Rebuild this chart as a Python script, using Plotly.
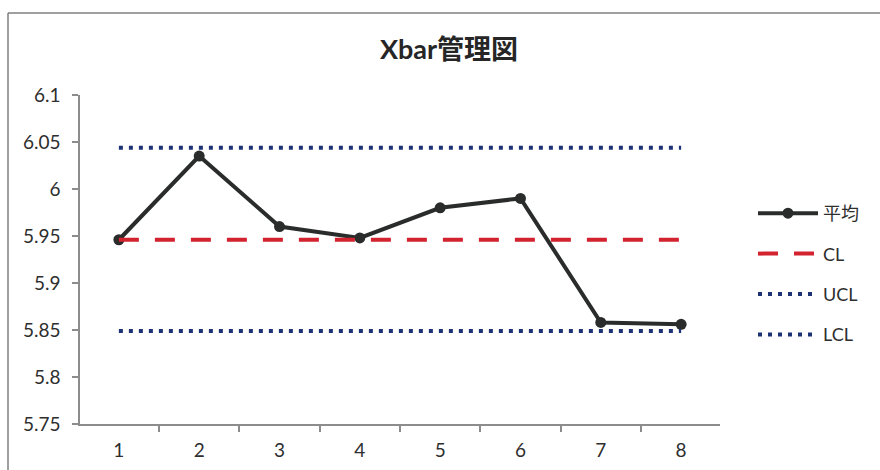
import plotly.graph_objects as go

# Subgroup numbers and their sample means
subgroups = ["1", "2", "3", "4", "5", "6", "7", "8"]
means = [5.946, 6.035, 5.960, 5.948, 5.980, 5.990, 5.858, 5.856]

# Control limits
cl_value = 5.946
ucl_value = 6.044
lcl_value = 5.849

y_tick_vals = [5.75, 5.8, 5.85, 5.9, 5.95, 6.0, 6.05, 6.1]
y_tick_text = ["5.75", "5.8", "5.85", "5.9", "5.95", "6", "6.05", "6.1"]

FONT = "Lato, 'Noto Sans CJK JP', sans-serif"
W, H = 880, 470
L, R, T, B = 80, 160, 95, 46
plot_w = W - L - R
plot_h = H - T - B


def px_x(px):
    return (px - L) / plot_w


def px_y(py):
    return (H - B - py) / plot_h


fig = go.Figure()

fig.add_trace(go.Scatter(
    x=subgroups, y=means, name="平均", mode="lines+markers",
    line=dict(color="#2a2c2b", width=4),
    marker=dict(color="#2a2c2b", size=11),
    legendgroup="a",
))
fig.add_trace(go.Scatter(
    x=subgroups, y=[cl_value] * len(subgroups), name="CL", mode="lines",
    line=dict(color="#d2232f", width=4, dash="20px,16px"),
    legendgroup="b",
))
fig.add_trace(go.Scatter(
    x=subgroups, y=[ucl_value] * len(subgroups), name="UCL", mode="lines",
    line=dict(color="#1d3274", width=4, dash="4px,6px"),
    legendgroup="c",
))
fig.add_trace(go.Scatter(
    x=subgroups, y=[lcl_value] * len(subgroups), name="LCL", mode="lines",
    line=dict(color="#1d3274", width=4, dash="4px,6px"),
    legendgroup="d",
))

axis_color = "#8c8c8c"
tick_font = dict(family=FONT, size=19, color="#2e2e2e")
fig.update_layout(
    width=W, height=H,
    margin=dict(l=L, r=R, t=T, b=B, autoexpand=False),
    paper_bgcolor="white", plot_bgcolor="white",
    font=dict(family=FONT, size=18, color="#2e2e2e"),
    title=dict(text="<b>Xbar管理図</b>", x=px_x(449), xref="paper",
               y=1 - 50 / H, yanchor="middle", xanchor="center",
               font=dict(family=FONT, size=27, color="#262626")),
    showlegend=True,
    legend=dict(x=px_x(753), y=px_y(195), xanchor="left", yanchor="top",
                font=dict(family=FONT, size=18, color="#2e2e2e"),
                tracegroupgap=14, itemwidth=60, bgcolor="rgba(0,0,0,0)"),
    xaxis=dict(
        type="category", showgrid=False, zeroline=False, automargin=False,
        showline=True, linecolor=axis_color, linewidth=1.5,
        ticks="outside", tickson="boundaries", ticklen=6,
        tickcolor=axis_color, tickwidth=1.5,
        tickfont=tick_font, ticklabelstandoff=8,
    ),
    yaxis=dict(
        range=[5.75, 6.1], tickvals=y_tick_vals, ticktext=y_tick_text,
        showgrid=False, zeroline=False, automargin=False,
        showline=True, linecolor=axis_color, linewidth=1.5,
        ticks="outside", ticklen=6, tickcolor=axis_color, tickwidth=1.5,
        tickfont=tick_font, ticklabelstandoff=8,
    ),
)

# Chart-area frame along the top and left edges
frame = dict(color="#7f7f7f", width=1.5)
fig.add_shape(type="line", xref="paper", yref="paper",
              x0=px_x(8), x1=px_x(W), y0=px_y(13), y1=px_y(13), line=frame)
fig.add_shape(type="line", xref="paper", yref="paper",
              x0=px_x(8), x1=px_x(8), y0=px_y(13), y1=px_y(H), line=frame)

fig.write_html("out.html")
